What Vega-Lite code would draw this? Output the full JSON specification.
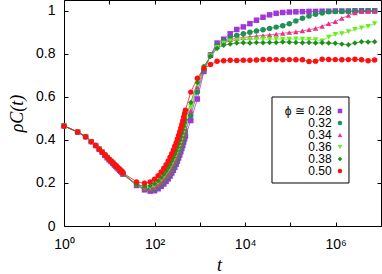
{
  "$schema": "https://vega.github.io/schema/vega-lite/v6.json",
  "autosize": "none",
  "width": 317,
  "height": 226,
  "padding": {"left": 64, "top": 0, "right": 1, "bottom": 48},
  "config": {
    "font": "Liberation Sans",
    "view": {"stroke": "black", "strokeWidth": 1},
    "axis": {"grid": false, "domain": false, "tickColor": "black", "labelColor": "black", "labelFont": "Liberation Sans", "labelFontSize": 14, "labelFlush": false, "labelOverlap": false, "labelBound": false}
  },
  "datasets": {
    "leg": [{"p":"0.28","lab":"ϕ ≅ 0.28"},{"p":"0.32","lab":"0.32"},{"p":"0.34","lab":"0.34"},{"p":"0.36","lab":"0.36"},{"p":"0.38","lab":"0.38"},{"p":"0.50","lab":"0.50"}]
  },
  "data": {"values": [
{"p":"0.28","t":1,"r":0.465},{"p":"0.28","t":2,"r":0.437},{"p":"0.28","t":3,"r":0.415},{"p":"0.28","t":4,"r":0.392},{"p":"0.28","t":5,"r":0.374},{"p":"0.28","t":6,"r":0.357},{"p":"0.28","t":7,"r":0.343},{"p":"0.28","t":8,"r":0.328},{"p":"0.28","t":9,"r":0.317},{"p":"0.28","t":10,"r":0.307},{"p":"0.28","t":11,"r":0.299},{"p":"0.28","t":12,"r":0.291},{"p":"0.28","t":13,"r":0.283},{"p":"0.28","t":14,"r":0.277},{"p":"0.28","t":15,"r":0.270},{"p":"0.28","t":16,"r":0.265},{"p":"0.28","t":17,"r":0.259},{"p":"0.28","t":18,"r":0.254},{"p":"0.28","t":19,"r":0.249},{"p":"0.28","t":20,"r":0.241},{"p":"0.28","t":40,"r":0.188},{"p":"0.28","t":60,"r":0.168},{"p":"0.28","t":80,"r":0.162},{"p":"0.28","t":100,"r":0.164},{"p":"0.28","t":120,"r":0.173},{"p":"0.28","t":140,"r":0.184},{"p":"0.28","t":160,"r":0.195},{"p":"0.28","t":180,"r":0.207},{"p":"0.28","t":200,"r":0.219},{"p":"0.28","t":220,"r":0.232},{"p":"0.28","t":240,"r":0.246},{"p":"0.28","t":260,"r":0.259},{"p":"0.28","t":280,"r":0.273},{"p":"0.28","t":300,"r":0.287},{"p":"0.28","t":320,"r":0.301},{"p":"0.28","t":340,"r":0.316},{"p":"0.28","t":360,"r":0.330},{"p":"0.28","t":380,"r":0.345},{"p":"0.28","t":400,"r":0.360},{"p":"0.28","t":420,"r":0.374},{"p":"0.28","t":440,"r":0.390},{"p":"0.28","t":460,"r":0.405},{"p":"0.28","t":480,"r":0.418},{"p":"0.28","t":631,"r":0.490},{"p":"0.28","t":881,"r":0.590},{"p":"0.28","t":1230,"r":0.718},{"p":"0.28","t":1718,"r":0.795},{"p":"0.28","t":2399,"r":0.850},{"p":"0.28","t":3350,"r":0.868},{"p":"0.28","t":4677,"r":0.893},{"p":"0.28","t":6531,"r":0.913},{"p":"0.28","t":9120,"r":0.925},{"p":"0.28","t":12735,"r":0.940},{"p":"0.28","t":17783,"r":0.956},{"p":"0.28","t":24831,"r":0.970},{"p":"0.28","t":34674,"r":0.981},{"p":"0.28","t":48417,"r":0.988},{"p":"0.28","t":67608,"r":0.992},{"p":"0.28","t":94406,"r":0.994},{"p":"0.28","t":131826,"r":0.995},{"p":"0.28","t":184077,"r":0.996},{"p":"0.28","t":257040,"r":0.997},{"p":"0.28","t":358922,"r":0.997},{"p":"0.28","t":501187,"r":0.998},{"p":"0.28","t":699842,"r":0.998},{"p":"0.28","t":977237,"r":0.999},{"p":"0.28","t":1364583,"r":0.999},{"p":"0.28","t":1905461,"r":0.999},{"p":"0.28","t":2660725,"r":1.0},{"p":"0.28","t":3715352,"r":1.0},{"p":"0.28","t":5188000,"r":1.0},{"p":"0.28","t":7244360,"r":1.0},
{"p":"0.32","t":1,"r":0.465},{"p":"0.32","t":2,"r":0.437},{"p":"0.32","t":3,"r":0.415},{"p":"0.32","t":4,"r":0.392},{"p":"0.32","t":5,"r":0.374},{"p":"0.32","t":6,"r":0.357},{"p":"0.32","t":7,"r":0.343},{"p":"0.32","t":8,"r":0.329},{"p":"0.32","t":9,"r":0.318},{"p":"0.32","t":10,"r":0.308},{"p":"0.32","t":11,"r":0.300},{"p":"0.32","t":12,"r":0.292},{"p":"0.32","t":13,"r":0.284},{"p":"0.32","t":14,"r":0.278},{"p":"0.32","t":15,"r":0.271},{"p":"0.32","t":16,"r":0.266},{"p":"0.32","t":17,"r":0.260},{"p":"0.32","t":18,"r":0.255},{"p":"0.32","t":19,"r":0.250},{"p":"0.32","t":20,"r":0.242},{"p":"0.32","t":40,"r":0.190},{"p":"0.32","t":60,"r":0.172},{"p":"0.32","t":80,"r":0.168},{"p":"0.32","t":100,"r":0.172},{"p":"0.32","t":120,"r":0.183},{"p":"0.32","t":140,"r":0.194},{"p":"0.32","t":160,"r":0.207},{"p":"0.32","t":180,"r":0.220},{"p":"0.32","t":200,"r":0.233},{"p":"0.32","t":220,"r":0.247},{"p":"0.32","t":240,"r":0.261},{"p":"0.32","t":260,"r":0.275},{"p":"0.32","t":280,"r":0.289},{"p":"0.32","t":300,"r":0.304},{"p":"0.32","t":320,"r":0.319},{"p":"0.32","t":340,"r":0.334},{"p":"0.32","t":360,"r":0.349},{"p":"0.32","t":380,"r":0.364},{"p":"0.32","t":400,"r":0.379},{"p":"0.32","t":420,"r":0.394},{"p":"0.32","t":440,"r":0.410},{"p":"0.32","t":460,"r":0.425},{"p":"0.32","t":480,"r":0.439},{"p":"0.32","t":631,"r":0.513},{"p":"0.32","t":881,"r":0.623},{"p":"0.32","t":1230,"r":0.725},{"p":"0.32","t":1718,"r":0.792},{"p":"0.32","t":2399,"r":0.840},{"p":"0.32","t":3350,"r":0.860},{"p":"0.32","t":4677,"r":0.875},{"p":"0.32","t":6531,"r":0.885},{"p":"0.32","t":9120,"r":0.893},{"p":"0.32","t":12735,"r":0.900},{"p":"0.32","t":17783,"r":0.906},{"p":"0.32","t":24831,"r":0.912},{"p":"0.32","t":34674,"r":0.918},{"p":"0.32","t":48417,"r":0.924},{"p":"0.32","t":67608,"r":0.930},{"p":"0.32","t":94406,"r":0.940},{"p":"0.32","t":131826,"r":0.953},{"p":"0.32","t":184077,"r":0.965},{"p":"0.32","t":257040,"r":0.976},{"p":"0.32","t":358922,"r":0.984},{"p":"0.32","t":501187,"r":0.990},{"p":"0.32","t":699842,"r":0.995},{"p":"0.32","t":977237,"r":0.996},{"p":"0.32","t":1364583,"r":0.997},{"p":"0.32","t":1905461,"r":0.997},{"p":"0.32","t":2660725,"r":0.998},{"p":"0.32","t":3715352,"r":0.998},{"p":"0.32","t":5188000,"r":0.999},{"p":"0.32","t":7244360,"r":0.999},
{"p":"0.34","t":1,"r":0.465},{"p":"0.34","t":2,"r":0.437},{"p":"0.34","t":3,"r":0.415},{"p":"0.34","t":4,"r":0.392},{"p":"0.34","t":5,"r":0.374},{"p":"0.34","t":6,"r":0.357},{"p":"0.34","t":7,"r":0.343},{"p":"0.34","t":8,"r":0.330},{"p":"0.34","t":9,"r":0.319},{"p":"0.34","t":10,"r":0.309},{"p":"0.34","t":11,"r":0.301},{"p":"0.34","t":12,"r":0.293},{"p":"0.34","t":13,"r":0.285},{"p":"0.34","t":14,"r":0.279},{"p":"0.34","t":15,"r":0.272},{"p":"0.34","t":16,"r":0.267},{"p":"0.34","t":17,"r":0.261},{"p":"0.34","t":18,"r":0.256},{"p":"0.34","t":19,"r":0.251},{"p":"0.34","t":20,"r":0.243},{"p":"0.34","t":40,"r":0.191},{"p":"0.34","t":60,"r":0.175},{"p":"0.34","t":80,"r":0.173},{"p":"0.34","t":100,"r":0.179},{"p":"0.34","t":120,"r":0.191},{"p":"0.34","t":140,"r":0.204},{"p":"0.34","t":160,"r":0.218},{"p":"0.34","t":180,"r":0.232},{"p":"0.34","t":200,"r":0.246},{"p":"0.34","t":220,"r":0.260},{"p":"0.34","t":240,"r":0.275},{"p":"0.34","t":260,"r":0.290},{"p":"0.34","t":280,"r":0.305},{"p":"0.34","t":300,"r":0.320},{"p":"0.34","t":320,"r":0.335},{"p":"0.34","t":340,"r":0.351},{"p":"0.34","t":360,"r":0.366},{"p":"0.34","t":380,"r":0.382},{"p":"0.34","t":400,"r":0.397},{"p":"0.34","t":420,"r":0.413},{"p":"0.34","t":440,"r":0.429},{"p":"0.34","t":460,"r":0.444},{"p":"0.34","t":480,"r":0.458},{"p":"0.34","t":631,"r":0.535},{"p":"0.34","t":881,"r":0.645},{"p":"0.34","t":1230,"r":0.732},{"p":"0.34","t":1718,"r":0.792},{"p":"0.34","t":2399,"r":0.835},{"p":"0.34","t":3350,"r":0.855},{"p":"0.34","t":4677,"r":0.866},{"p":"0.34","t":6531,"r":0.872},{"p":"0.34","t":9120,"r":0.876},{"p":"0.34","t":12735,"r":0.879},{"p":"0.34","t":17783,"r":0.882},{"p":"0.34","t":24831,"r":0.885},{"p":"0.34","t":34674,"r":0.888},{"p":"0.34","t":48417,"r":0.891},{"p":"0.34","t":67608,"r":0.895},{"p":"0.34","t":94406,"r":0.899},{"p":"0.34","t":131826,"r":0.902},{"p":"0.34","t":184077,"r":0.906},{"p":"0.34","t":257040,"r":0.912},{"p":"0.34","t":358922,"r":0.918},{"p":"0.34","t":501187,"r":0.928},{"p":"0.34","t":699842,"r":0.940},{"p":"0.34","t":977237,"r":0.950},{"p":"0.34","t":1364583,"r":0.965},{"p":"0.34","t":1905461,"r":0.978},{"p":"0.34","t":2660725,"r":0.990},{"p":"0.34","t":3715352,"r":0.997},{"p":"0.34","t":5188000,"r":0.998},{"p":"0.34","t":7244360,"r":0.998},
{"p":"0.36","t":1,"r":0.465},{"p":"0.36","t":2,"r":0.437},{"p":"0.36","t":3,"r":0.415},{"p":"0.36","t":4,"r":0.392},{"p":"0.36","t":5,"r":0.374},{"p":"0.36","t":6,"r":0.357},{"p":"0.36","t":7,"r":0.343},{"p":"0.36","t":8,"r":0.330},{"p":"0.36","t":9,"r":0.319},{"p":"0.36","t":10,"r":0.309},{"p":"0.36","t":11,"r":0.301},{"p":"0.36","t":12,"r":0.293},{"p":"0.36","t":13,"r":0.285},{"p":"0.36","t":14,"r":0.279},{"p":"0.36","t":15,"r":0.272},{"p":"0.36","t":16,"r":0.267},{"p":"0.36","t":17,"r":0.261},{"p":"0.36","t":18,"r":0.256},{"p":"0.36","t":19,"r":0.251},{"p":"0.36","t":20,"r":0.244},{"p":"0.36","t":40,"r":0.192},{"p":"0.36","t":60,"r":0.180},{"p":"0.36","t":80,"r":0.180},{"p":"0.36","t":100,"r":0.188},{"p":"0.36","t":120,"r":0.201},{"p":"0.36","t":140,"r":0.215},{"p":"0.36","t":160,"r":0.229},{"p":"0.36","t":180,"r":0.244},{"p":"0.36","t":200,"r":0.258},{"p":"0.36","t":220,"r":0.274},{"p":"0.36","t":240,"r":0.289},{"p":"0.36","t":260,"r":0.304},{"p":"0.36","t":280,"r":0.320},{"p":"0.36","t":300,"r":0.335},{"p":"0.36","t":320,"r":0.351},{"p":"0.36","t":340,"r":0.367},{"p":"0.36","t":360,"r":0.382},{"p":"0.36","t":380,"r":0.398},{"p":"0.36","t":400,"r":0.414},{"p":"0.36","t":420,"r":0.430},{"p":"0.36","t":440,"r":0.446},{"p":"0.36","t":460,"r":0.462},{"p":"0.36","t":480,"r":0.477},{"p":"0.36","t":631,"r":0.555},{"p":"0.36","t":881,"r":0.657},{"p":"0.36","t":1230,"r":0.738},{"p":"0.36","t":1718,"r":0.790},{"p":"0.36","t":2399,"r":0.830},{"p":"0.36","t":3350,"r":0.850},{"p":"0.36","t":4677,"r":0.860},{"p":"0.36","t":6531,"r":0.864},{"p":"0.36","t":9120,"r":0.866},{"p":"0.36","t":12735,"r":0.867},{"p":"0.36","t":17783,"r":0.868},{"p":"0.36","t":24831,"r":0.869},{"p":"0.36","t":34674,"r":0.868},{"p":"0.36","t":48417,"r":0.869},{"p":"0.36","t":67608,"r":0.868},{"p":"0.36","t":94406,"r":0.868},{"p":"0.36","t":131826,"r":0.869},{"p":"0.36","t":184077,"r":0.868},{"p":"0.36","t":257040,"r":0.867},{"p":"0.36","t":358922,"r":0.866},{"p":"0.36","t":501187,"r":0.860},{"p":"0.36","t":699842,"r":0.878},{"p":"0.36","t":977237,"r":0.890},{"p":"0.36","t":1364583,"r":0.894},{"p":"0.36","t":1905461,"r":0.903},{"p":"0.36","t":2660725,"r":0.913},{"p":"0.36","t":3715352,"r":0.920},{"p":"0.36","t":5188000,"r":0.928},{"p":"0.36","t":7244360,"r":0.940},
{"p":"0.38","t":1,"r":0.465},{"p":"0.38","t":2,"r":0.437},{"p":"0.38","t":3,"r":0.415},{"p":"0.38","t":4,"r":0.392},{"p":"0.38","t":5,"r":0.374},{"p":"0.38","t":6,"r":0.357},{"p":"0.38","t":7,"r":0.343},{"p":"0.38","t":8,"r":0.331},{"p":"0.38","t":9,"r":0.320},{"p":"0.38","t":10,"r":0.310},{"p":"0.38","t":11,"r":0.302},{"p":"0.38","t":12,"r":0.294},{"p":"0.38","t":13,"r":0.286},{"p":"0.38","t":14,"r":0.280},{"p":"0.38","t":15,"r":0.273},{"p":"0.38","t":16,"r":0.268},{"p":"0.38","t":17,"r":0.262},{"p":"0.38","t":18,"r":0.257},{"p":"0.38","t":19,"r":0.252},{"p":"0.38","t":20,"r":0.245},{"p":"0.38","t":40,"r":0.193},{"p":"0.38","t":60,"r":0.185},{"p":"0.38","t":80,"r":0.187},{"p":"0.38","t":100,"r":0.196},{"p":"0.38","t":120,"r":0.210},{"p":"0.38","t":140,"r":0.225},{"p":"0.38","t":160,"r":0.240},{"p":"0.38","t":180,"r":0.255},{"p":"0.38","t":200,"r":0.271},{"p":"0.38","t":220,"r":0.286},{"p":"0.38","t":240,"r":0.302},{"p":"0.38","t":260,"r":0.318},{"p":"0.38","t":280,"r":0.334},{"p":"0.38","t":300,"r":0.350},{"p":"0.38","t":320,"r":0.366},{"p":"0.38","t":340,"r":0.382},{"p":"0.38","t":360,"r":0.398},{"p":"0.38","t":380,"r":0.414},{"p":"0.38","t":400,"r":0.431},{"p":"0.38","t":420,"r":0.447},{"p":"0.38","t":440,"r":0.463},{"p":"0.38","t":460,"r":0.480},{"p":"0.38","t":480,"r":0.494},{"p":"0.38","t":631,"r":0.574},{"p":"0.38","t":881,"r":0.667},{"p":"0.38","t":1230,"r":0.742},{"p":"0.38","t":1718,"r":0.787},{"p":"0.38","t":2399,"r":0.825},{"p":"0.38","t":3350,"r":0.840},{"p":"0.38","t":4677,"r":0.846},{"p":"0.38","t":6531,"r":0.850},{"p":"0.38","t":9120,"r":0.851},{"p":"0.38","t":12735,"r":0.850},{"p":"0.38","t":17783,"r":0.852},{"p":"0.38","t":24831,"r":0.851},{"p":"0.38","t":34674,"r":0.853},{"p":"0.38","t":48417,"r":0.852},{"p":"0.38","t":67608,"r":0.855},{"p":"0.38","t":94406,"r":0.854},{"p":"0.38","t":131826,"r":0.853},{"p":"0.38","t":184077,"r":0.851},{"p":"0.38","t":257040,"r":0.852},{"p":"0.38","t":358922,"r":0.850},{"p":"0.38","t":501187,"r":0.851},{"p":"0.38","t":699842,"r":0.850},{"p":"0.38","t":977237,"r":0.849},{"p":"0.38","t":1364583,"r":0.845},{"p":"0.38","t":1905461,"r":0.842},{"p":"0.38","t":2660725,"r":0.850},{"p":"0.38","t":3715352,"r":0.856},{"p":"0.38","t":5188000,"r":0.855},{"p":"0.38","t":7244360,"r":0.856},
{"p":"0.50","t":1,"r":0.465},{"p":"0.50","t":2,"r":0.437},{"p":"0.50","t":3,"r":0.415},{"p":"0.50","t":4,"r":0.392},{"p":"0.50","t":5,"r":0.374},{"p":"0.50","t":6,"r":0.357},{"p":"0.50","t":7,"r":0.343},{"p":"0.50","t":8,"r":0.331},{"p":"0.50","t":9,"r":0.320},{"p":"0.50","t":10,"r":0.310},{"p":"0.50","t":11,"r":0.302},{"p":"0.50","t":12,"r":0.294},{"p":"0.50","t":13,"r":0.286},{"p":"0.50","t":14,"r":0.280},{"p":"0.50","t":15,"r":0.273},{"p":"0.50","t":16,"r":0.268},{"p":"0.50","t":17,"r":0.262},{"p":"0.50","t":18,"r":0.257},{"p":"0.50","t":19,"r":0.252},{"p":"0.50","t":20,"r":0.247},{"p":"0.50","t":40,"r":0.205},{"p":"0.50","t":60,"r":0.199},{"p":"0.50","t":80,"r":0.205},{"p":"0.50","t":100,"r":0.217},{"p":"0.50","t":120,"r":0.234},{"p":"0.50","t":140,"r":0.251},{"p":"0.50","t":160,"r":0.268},{"p":"0.50","t":180,"r":0.285},{"p":"0.50","t":200,"r":0.302},{"p":"0.50","t":220,"r":0.319},{"p":"0.50","t":240,"r":0.336},{"p":"0.50","t":260,"r":0.353},{"p":"0.50","t":280,"r":0.370},{"p":"0.50","t":300,"r":0.387},{"p":"0.50","t":320,"r":0.404},{"p":"0.50","t":340,"r":0.421},{"p":"0.50","t":360,"r":0.438},{"p":"0.50","t":380,"r":0.455},{"p":"0.50","t":400,"r":0.472},{"p":"0.50","t":420,"r":0.489},{"p":"0.50","t":440,"r":0.506},{"p":"0.50","t":460,"r":0.523},{"p":"0.50","t":480,"r":0.538},{"p":"0.50","t":631,"r":0.622},{"p":"0.50","t":881,"r":0.687},{"p":"0.50","t":1230,"r":0.733},{"p":"0.50","t":1718,"r":0.750},{"p":"0.50","t":2399,"r":0.765},{"p":"0.50","t":3350,"r":0.768},{"p":"0.50","t":4677,"r":0.770},{"p":"0.50","t":6531,"r":0.769},{"p":"0.50","t":9120,"r":0.770},{"p":"0.50","t":12735,"r":0.770},{"p":"0.50","t":17783,"r":0.771},{"p":"0.50","t":24831,"r":0.774},{"p":"0.50","t":34674,"r":0.774},{"p":"0.50","t":48417,"r":0.773},{"p":"0.50","t":67608,"r":0.772},{"p":"0.50","t":94406,"r":0.773},{"p":"0.50","t":131826,"r":0.772},{"p":"0.50","t":184077,"r":0.772},{"p":"0.50","t":257040,"r":0.764},{"p":"0.50","t":358922,"r":0.766},{"p":"0.50","t":501187,"r":0.775},{"p":"0.50","t":699842,"r":0.774},{"p":"0.50","t":977237,"r":0.773},{"p":"0.50","t":1364583,"r":0.772},{"p":"0.50","t":1905461,"r":0.773},{"p":"0.50","t":2660725,"r":0.775},{"p":"0.50","t":3715352,"r":0.772},{"p":"0.50","t":5188000,"r":0.768},{"p":"0.50","t":7244360,"r":0.771}
  ]},
  "resolve": {"axis": {"x": "independent", "y": "independent"}},
  "layer": [
    {
      "mark": {"type": "line", "strokeWidth": 0.9, "opacity": 0.85},
      "encoding": {
        "x": {"field": "t", "type": "quantitative", "scale": {"type": "log", "domain": [1, 10000000], "nice": false},
              "axis": {"orient": "top", "values": [1,10,100,1000,10000,100000,1000000,10000000], "labels": false, "tickSize": -4, "title": null}},
        "y": {"field": "r", "type": "quantitative", "scale": {"domain": [0, 1.05], "nice": false, "zero": false},
              "axis": {"orient": "right", "values": [0,0.2,0.4,0.6,0.8,1], "labels": false, "tickSize": -4, "title": null}},
        "stroke": {"field": "p", "type": "nominal", "legend": null,
                  "scale": {"domain": ["0.28","0.32","0.34","0.36","0.38","0.50"], "range": ["#a035d8","#1f9058","#e8308c","#66ee22","#1e8f1e","#ff1010"]}}
      }
    },
    {
      "mark": {"type": "point", "filled": true, "size": 30, "opacity": 1},
      "encoding": {
        "x": {"field": "t", "type": "quantitative",
              "axis": {"orient": "bottom", "values": [1,10,100,1000,10000,100000,1000000,10000000], "tickSize": -4, "labelPadding": 15,
                       "labelExpr": "datum.value == 1 ? '10⁰' : datum.value == 100 ? '10²' : datum.value == 10000 ? '10⁴' : datum.value == 1000000 ? '10⁶' : ''",
                       "title": "t", "titleFont": "Liberation Serif", "titleFontStyle": "italic", "titleFontWeight": "normal", "titleFontSize": 18, "titleColor": "black",
                       "titleX": 155, "titleY": 48, "titleBaseline": "bottom", "titleAlign": "center"}},
        "y": {"field": "r", "type": "quantitative",
              "axis": {"orient": "left", "values": [0,0.2,0.4,0.6,0.8,1], "tickSize": -4, "labelPadding": 13,
                       "labelExpr": "format(datum.value, '~g')",
                       "title": "ρC(t)", "titleFont": "Liberation Serif", "titleFontStyle": "italic", "titleFontWeight": "normal", "titleFontSize": 18, "titleColor": "black",
                       "titleX": -47, "titleY": 113, "titleBaseline": "middle", "titleAlign": "center", "titleAngle": -90}},
        "color": {"field": "p", "type": "nominal", "legend": null,
                  "scale": {"domain": ["0.28","0.32","0.34","0.36","0.38","0.50"], "range": ["#a035d8","#1f9058","#e8308c","#66ee22","#1e8f1e","#ff1010"]}},
        "shape": {"field": "p", "type": "nominal", "legend": null,
                  "scale": {"domain": ["0.28","0.32","0.34","0.36","0.38","0.50"], "range": ["square","circle","triangle-up","triangle-down","diamond","circle"]}}
      }
    },
    {
      "data": {"values": [{"box": "legend"}]},
      "mark": {"type": "rect", "fill": "white", "stroke": "black", "strokeWidth": 1},
      "encoding": {
        "x": {"datum": 39170, "type": "quantitative", "axis": null},
        "x2": {"datum": 1965000},
        "y": {"datum": 0.5993, "type": "quantitative", "axis": null},
        "y2": {"datum": 0.1998}
      }
    },
    {
      "data": {"name": "leg"},
      "mark": {"type": "point", "filled": true, "size": 20, "opacity": 1},
      "encoding": {
        "x": {"datum": 1240000, "type": "quantitative", "axis": null},
        "y": {"datum": 0.5622, "type": "quantitative", "axis": null},
        "yOffset": {"field": "p", "type": "nominal", "scale": {"type": "point", "domain": ["0.28","0.32","0.34","0.36","0.38","0.50"], "range": [0, 72]}},
        "color": {"field": "p", "type": "nominal", "legend": null},
        "shape": {"field": "p", "type": "nominal", "legend": null}
      }
    },
    {
      "data": {"name": "leg"},
      "mark": {"type": "text", "align": "right", "baseline": "middle", "font": "Liberation Sans", "fontSize": 12, "color": "black"},
      "encoding": {
        "x": {"datum": 811000, "type": "quantitative", "axis": null},
        "y": {"datum": 0.5622, "type": "quantitative", "axis": null},
        "yOffset": {"field": "p", "type": "nominal", "scale": {"type": "point", "domain": ["0.28","0.32","0.34","0.36","0.38","0.50"], "range": [0, 72]}},
        "text": {"field": "lab"}
      }
    }
  ]
}
